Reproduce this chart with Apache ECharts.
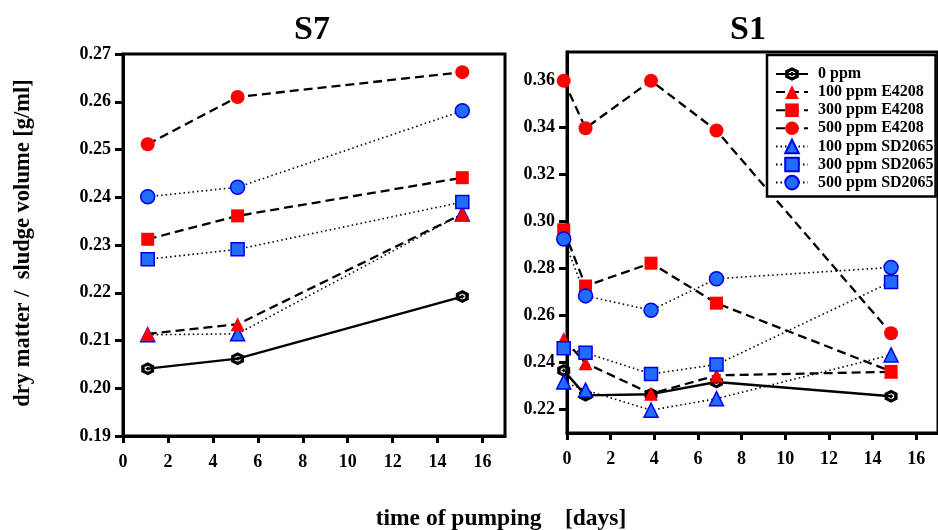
<!DOCTYPE html>
<html>
<head>
<meta charset="utf-8">
<script src="https://cdn.jsdelivr.net/npm/echarts@6/dist/echarts.min.js"></script>
<style>
  html, body { margin: 0; padding: 0; background: #fff; }
  #chart { width: 938px; height: 530px; }
</style>
</head>
<body>
<div id="chart"></div>
<script>
// Series labels, in legend order
const seriesNames = ['0 ppm', '100 ppm E4208', '300 ppm E4208', '500 ppm E4208',
                     '100 ppm SD2065', '300 ppm SD2065', '500 ppm SD2065'];

// S7: days of pumping and dry matter / sludge volume [g/ml]
const s7Days   = [1.1, 5.1, 15.1];
const s7_0ppm  = [0.2041, 0.2062, 0.2192];
const s7_E100  = [0.2114, 0.2134, 0.2365];
const s7_E300  = [0.2312, 0.2361, 0.2441];
const s7_E500  = [0.2511, 0.2610, 0.2662];
const s7_SD100 = [0.2112, 0.2114, 0.2365];
const s7_SD300 = [0.2270, 0.2291, 0.2390];
const s7_SD500 = [0.2401, 0.2421, 0.2581];

// S1: days of pumping and dry matter / sludge volume [g/ml]
const s1Days   = [-0.15, 0.85, 3.85, 6.85, 14.85];
const s1_0ppm  = [0.2366, 0.2260, 0.2265, 0.2317, 0.2256];
const s1_E100  = [0.2500, 0.2397, 0.2267, 0.2345, 0.2360];
const s1_E300  = [0.2964, 0.2725, 0.2822, 0.2652, 0.2362];
const s1_E500  = [0.3598, 0.3396, 0.3598, 0.3386, 0.2524];
const s1_SD100 = [0.2317, 0.2282, 0.2197, 0.2246, 0.2432];
const s1_SD300 = [0.2460, 0.2441, 0.2351, 0.2391, 0.2742];
const s1_SD500 = [0.2925, 0.2683, 0.2622, 0.2756, 0.2804];

// Tick labels
const xTicks  = [0, 2, 4, 6, 8, 10, 12, 14, 16];
const s7Ticks = [0.19, 0.20, 0.21, 0.22, 0.23, 0.24, 0.25, 0.26, 0.27];
const s1Ticks = [0.22, 0.24, 0.26, 0.28, 0.30, 0.32, 0.34, 0.36];

const FONT = '"Liberation Serif", "Times New Roman", serif';
const RED = '#ff0000';
const BLUE_FILL = '#1f6cff';
const BLUE_EDGE = '#0000e6';

// hexagonal ring with a small cross, marker of the untreated sludge
const hexCross = 'path://M50,0 L93,25 L93,75 L50,100 L7,75 L7,25 Z ' +
  'M50,27 L30,38 L30,62 L50,73 L70,62 L70,38 Z ' +
  'M44,36 L56,36 L56,44 L64,44 L64,56 L56,56 L56,64 L44,64 L44,56 L36,56 L36,44 L44,44 Z';

const styles = {
  '0 ppm':          { symbol: hexCross, size: 13, fill: '#000', edge: null, line: 'solid', lw: 2.4 },
  '100 ppm E4208':  { symbol: 'triangle', size: 14, fill: RED, edge: null, line: [9, 5], lw: 2.3 },
  '300 ppm E4208':  { symbol: 'rect', size: 13, fill: RED, edge: null, line: [9, 5], lw: 2.3 },
  '500 ppm E4208':  { symbol: 'circle', size: 14, fill: RED, edge: null, line: [9, 5], lw: 2.3 },
  '100 ppm SD2065': { symbol: 'triangle', size: 14, fill: BLUE_FILL, edge: BLUE_EDGE, line: [1.5, 3], lw: 1.6 },
  '300 ppm SD2065': { symbol: 'rect', size: 13, fill: BLUE_FILL, edge: BLUE_EDGE, line: [1.5, 3], lw: 1.6 },
  '500 ppm SD2065': { symbol: 'circle', size: 14, fill: BLUE_FILL, edge: BLUE_EDGE, line: [1.5, 3], lw: 1.6 }
};

function makeSeries(name, panel, days, values) {
  const s = styles[name];
  return {
    name: name,
    type: 'line',
    xAxisIndex: panel,
    yAxisIndex: panel,
    data: days.map((d, i) => [d, values[i]]),
    clip: false,
    symbol: s.symbol,
    symbolSize: s.size,
    itemStyle: {
      color: s.fill,
      borderColor: s.edge || s.fill,
      borderWidth: s.edge ? 1.5 : 0,
      opacity: 1
    },
    lineStyle: { color: '#000', width: s.lw, type: s.line },
    emphasis: { disabled: true },
    animation: false
  };
}

const panels = [
  { days: s7Days, vals: { '0 ppm': s7_0ppm, '100 ppm E4208': s7_E100, '300 ppm E4208': s7_E300,
    '500 ppm E4208': s7_E500, '100 ppm SD2065': s7_SD100, '300 ppm SD2065': s7_SD300, '500 ppm SD2065': s7_SD500 } },
  { days: s1Days, vals: { '0 ppm': s1_0ppm, '100 ppm E4208': s1_E100, '300 ppm E4208': s1_E300,
    '500 ppm E4208': s1_E500, '100 ppm SD2065': s1_SD100, '300 ppm SD2065': s1_SD300, '500 ppm SD2065': s1_SD500 } }
];
// drawing order: blue triangles below red ones, blue squares/circles on top
const drawOrder = ['0 ppm', '100 ppm SD2065', '100 ppm E4208', '300 ppm E4208', '500 ppm E4208',
                   '300 ppm SD2065', '500 ppm SD2065'];

const series = [];
panels.forEach((p, idx) => {
  drawOrder.forEach(n => series.push(makeSeries(n, idx, p.days, p.vals[n])));
});

const labelStyle = { fontFamily: FONT, fontWeight: 'bold', fontSize: 18, color: '#000' };

function xAxis(grid) {
  return {
    gridIndex: grid, type: 'value', min: 0, max: 17,
    axisLine: { onZero: false, lineStyle: { color: '#000', width: 3 } },
    axisTick: { length: 7, lineStyle: { color: '#000', width: 3 }, customValues: xTicks },
    axisLabel: Object.assign({ margin: 17, customValues: xTicks }, labelStyle),
    splitLine: { show: false }
  };
}
function yAxis(grid, min, max, ticks) {
  return {
    gridIndex: grid, type: 'value', min: min, max: max,
    axisLine: { onZero: false, lineStyle: { color: '#000', width: 3 } },
    axisTick: { length: 8, lineStyle: { color: '#000', width: 3 }, customValues: ticks },
    axisLabel: Object.assign({ margin: 12, customValues: ticks, formatter: v => v.toFixed(2) }, labelStyle),
    splitLine: { show: false }
  };
}

const chart = echarts.init(document.getElementById('chart'));
chart.setOption({
  backgroundColor: '#fff',
  animation: false,
  grid: [
    { left: 123, top: 54, width: 382, height: 382, show: true, borderColor: '#000', borderWidth: 3 },
    { left: 567, top: 52, width: 381, height: 381, show: true, borderColor: '#000', borderWidth: 3 }
  ],
  xAxis: [xAxis(0), xAxis(1)],
  yAxis: [yAxis(0, 0.19, 0.27, s7Ticks), yAxis(1, 0.21, 0.372, s1Ticks)],
  legend: {
    data: seriesNames,
    orient: 'vertical',
    left: 767, top: 55,
    padding: [11, 2, 6, 8],
    itemWidth: 32, itemHeight: 17, itemGap: 2.1,
    backgroundColor: '#fff',
    borderColor: '#000', borderWidth: 2.5,
    selectedMode: false,
    textStyle: { fontFamily: FONT, fontWeight: 'bold', fontSize: 16, color: '#000', lineHeight: 14, padding: [0, 0, 0, 5] }
  },
  graphic: [
    { type: 'text', x: 312, y: 30, silent: true,
      style: { text: 'S7', font: 'bold 34px ' + FONT, fill: '#000', textAlign: 'center', textVerticalAlign: 'middle', align: 'center', verticalAlign: 'middle' } },
    { type: 'text', x: 748, y: 30, silent: true,
      style: { text: 'S1', font: 'bold 34px ' + FONT, fill: '#000', textAlign: 'center', textVerticalAlign: 'middle', align: 'center', verticalAlign: 'middle' } },
    { type: 'text', x: 23, y: 243, rotation: Math.PI / 2, silent: true,
      style: { text: 'dry matter /  sludge volume [g/ml]', font: 'bold 22.5px ' + FONT, fill: '#000', textAlign: 'center', textVerticalAlign: 'middle', align: 'center', verticalAlign: 'middle' } },
    { type: 'text', x: 501, y: 519, silent: true,
      style: { text: 'time of pumping    [days]', font: 'bold 23.5px ' + FONT, fill: '#000', textAlign: 'center', textVerticalAlign: 'middle', align: 'center', verticalAlign: 'middle' } }
  ],
  series: series
});
</script>
</body>
</html>
